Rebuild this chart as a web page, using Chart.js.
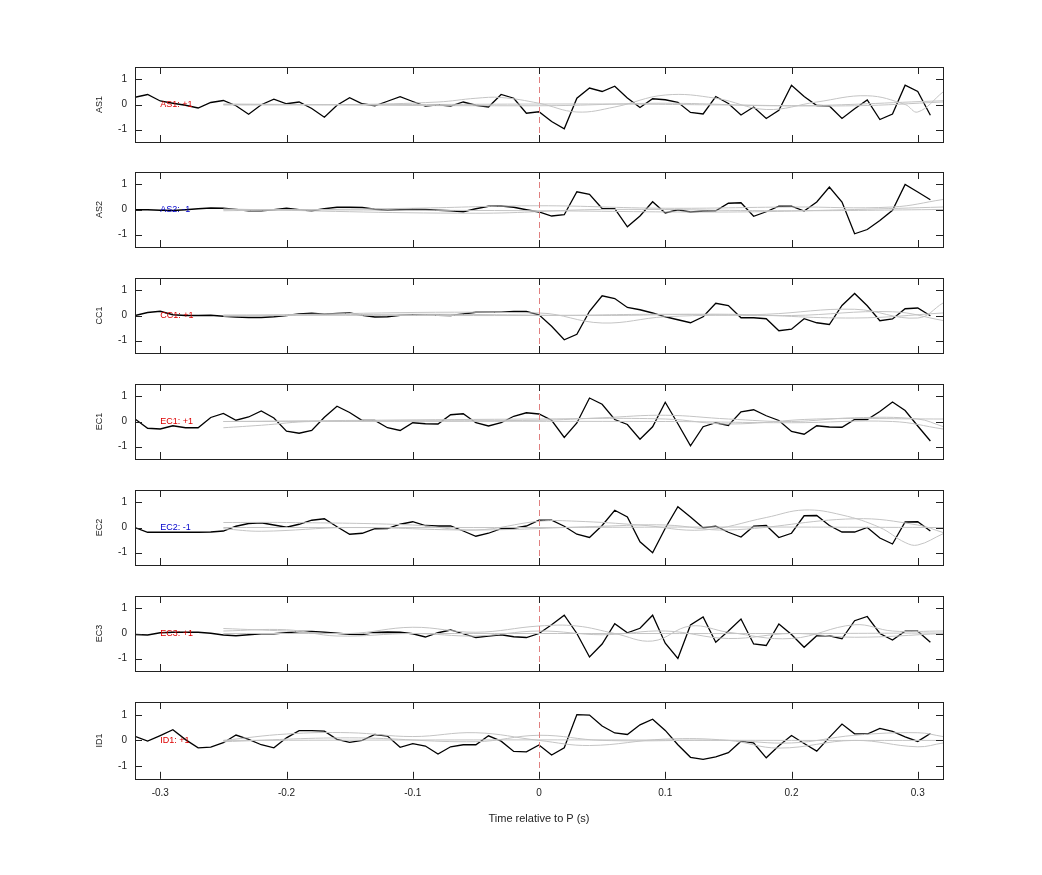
<!DOCTYPE html>
<html><head><meta charset="utf-8">
<script src="https://cdn.jsdelivr.net/npm/chart.js@4/dist/chart.umd.min.js"></script>
<style>body{margin:0;background:#fff;width:1042px;height:875px;position:relative;overflow:hidden}
.p{position:absolute;left:0}</style></head><body>
<script>
const channels = ["AS1","AS2","CC1","EC1","EC2","EC3","ID1"];
const polarity = ["+1","-1","+1","+1","-1","+1","+1"];
const xTicks = [-0.3,-0.2,-0.1,0,0.1,0.2,0.3];
const tStart = -0.32, tStep = 0.01;

const AS1 = [0.29,0.40,0.14,0.05,-0.03,-0.14,0.08,0.16,-0.05,-0.39,-0.01,0.21,0.03,0.10,-0.16,-0.51,-0.03,0.27,0.03,-0.05,0.13,0.31,0.12,-0.06,-0.01,-0.06,0.10,-0.03,-0.10,0.40,0.25,-0.35,-0.29,-0.68,-0.97,0.25,0.66,0.52,0.73,0.26,-0.12,0.23,0.19,0.09,-0.32,-0.38,0.32,0.04,-0.42,-0.10,-0.56,-0.23,0.77,0.32,-0.04,-0.06,-0.56,-0.17,0.18,-0.60,-0.38,0.77,0.52,-0.43];
const AS2 = [-0.01,-0.01,-0.03,-0.04,-0.01,0.03,0.06,0.05,0,-0.05,-0.05,-0.01,0.05,-0.01,-0.05,0.03,0.09,0.09,0.08,0.01,-0.03,-0.01,0.01,0,-0.03,-0.05,-0.09,0.03,0.13,0.14,0.09,-0.01,-0.10,-0.26,-0.21,0.71,0.61,0.04,0.03,-0.69,-0.26,0.31,-0.14,-0.01,-0.10,-0.06,-0.05,0.25,0.27,-0.27,-0.09,0.13,0.13,-0.06,0.30,0.90,0.30,-0.97,-0.80,-0.44,-0.03,1.00,0.70,0.39];
const CC1 = [0,0.12,0.17,0.03,0,0,0.01,-0.03,-0.06,-0.08,-0.08,-0.05,0,0.06,0.09,0.05,0.08,0.10,0.01,-0.06,-0.05,0.01,0.03,0.01,0.01,0,0.06,0.13,0.13,0.13,0.16,0.16,0.03,-0.43,-0.97,-0.75,0.17,0.79,0.68,0.32,0.23,0.10,-0.05,-0.17,-0.29,-0.05,0.49,0.40,-0.09,-0.09,-0.13,-0.61,-0.55,-0.13,-0.29,-0.36,0.40,0.88,0.39,-0.21,-0.14,0.27,0.30,-0.01];
const EC1 = [0.10,-0.27,-0.30,-0.17,-0.25,-0.25,0.16,0.32,0.05,0.18,0.42,0.14,-0.39,-0.47,-0.36,0.17,0.61,0.36,0.04,0.04,-0.25,-0.36,-0.05,-0.09,-0.10,0.27,0.31,-0.05,-0.18,-0.05,0.21,0.35,0.30,0.05,-0.64,-0.06,0.94,0.69,0.08,-0.12,-0.71,-0.21,0.77,-0.09,-0.97,-0.21,-0.05,-0.16,0.39,0.47,0.23,0.04,-0.40,-0.51,-0.17,-0.22,-0.23,0.08,0.08,0.40,0.78,0.44,-0.18,-0.78];
const EC2 = [0,-0.19,-0.19,-0.19,-0.19,-0.19,-0.18,-0.14,0.05,0.16,0.19,0.10,0.01,0.13,0.29,0.35,0.03,-0.27,-0.23,-0.05,-0.04,0.13,0.23,0.08,0.06,0.06,-0.14,-0.35,-0.23,-0.05,-0.03,0.06,0.29,0.29,0.05,-0.27,-0.40,0.08,0.69,0.42,-0.57,-1.01,-0.03,0.83,0.42,-0.01,0.05,-0.19,-0.38,0.05,0.08,-0.40,-0.23,0.47,0.48,0.08,-0.18,-0.18,0,-0.42,-0.66,0.22,0.23,-0.14];
const EC3 = [-0.04,-0.06,0.03,0.05,0.05,0.05,0.01,-0.06,-0.09,-0.05,-0.01,-0.01,0.03,0.08,0.08,0.05,0.01,-0.03,-0.04,0.04,0.06,0.05,-0.01,-0.14,0.03,0.14,-0.01,-0.16,-0.10,-0.05,-0.13,-0.16,0,0.35,0.73,0,-0.94,-0.42,0.39,0.03,0.21,0.73,-0.39,-1.00,0.34,0.66,-0.35,0.10,0.58,-0.42,-0.48,0.38,-0.04,-0.55,-0.09,-0.09,-0.21,0.51,0.68,0,-0.26,0.09,0.09,-0.35];
const ID1 = [0.16,-0.03,0.19,0.42,0.03,-0.29,-0.26,-0.09,0.21,0.04,-0.17,-0.29,0.10,0.38,0.38,0.36,0.04,-0.08,0,0.23,0.17,-0.27,-0.13,-0.22,-0.53,-0.25,-0.17,-0.17,0.18,-0.03,-0.43,-0.45,-0.18,-0.57,-0.29,1.01,0.99,0.56,0.29,0.23,0.61,0.83,0.39,-0.17,-0.66,-0.74,-0.64,-0.48,-0.03,-0.10,-0.68,-0.21,0.19,-0.12,-0.42,0.12,0.64,0.26,0.25,0.47,0.35,0.14,-0.04,0.27];
const blackSeries = [AS1,AS2,CC1,EC1,EC2,EC3,ID1];

const grayAS1 = [
 [[-0.25,0],[-0.15,0],[-0.08,0.1],[-0.05,0.25],[-0.03,0.28],[0,0.05],[0.03,-0.3],[0.06,-0.1],[0.1,0.38],[0.14,0.25],[0.18,-0.2],[0.22,0.1],[0.26,0.35],[0.29,0],[0.3,-0.3],[0.32,0.5]],
 [[-0.25,0.02],[0,-0.05],[0.1,0.05],[0.2,-0.05],[0.32,0.15]],
 [[-0.25,-0.02],[-0.1,0],[0.05,0.02],[0.15,-0.02],[0.25,-0.05],[0.32,0.1]]];
const grayAS2 = [
 [[-0.25,-0.05],[-0.1,0.05],[0,0.15],[0.1,0.05],[0.2,0.1],[0.28,0.1],[0.32,0.4]],
 [[-0.25,0],[0,-0.05],[0.15,-0.1],[0.25,0],[0.32,0.1]],
 [[-0.25,0.02],[-0.05,-0.15],[0.05,0],[0.2,-0.05],[0.32,0]]];
const grayCC1 = [
 [[-0.25,0],[0,0.1],[0.05,-0.3],[0.1,-0.05],[0.18,0.05],[0.25,0.25],[0.3,-0.1],[0.32,0.5]],
 [[-0.25,-0.03],[-0.1,0.05],[0.05,0],[0.15,0.05],[0.25,-0.1],[0.32,0.1]],
 [[-0.25,0.02],[0,0],[0.1,0.05],[0.2,0],[0.28,0.15],[0.32,-0.2]]];
const grayEC1 = [
 [[-0.25,-0.25],[-0.22,-0.15],[-0.18,0],[0,0.05],[0.05,0.15],[0.1,0.25],[0.15,0.1],[0.2,0],[0.25,0.15],[0.3,0.1],[0.32,-0.2]],
 [[-0.25,0],[0,0.1],[0.1,0.1],[0.15,-0.1],[0.22,0.1],[0.32,0.1]],
 [[-0.25,0],[0.1,0],[0.2,-0.05],[0.28,0],[0.32,-0.3]]];
const grayEC2 = [
 [[-0.25,0.2],[-0.2,0.2],[-0.1,0.1],[-0.05,-0.1],[0,0.25],[0.03,0.25],[0.08,0.1],[0.13,-0.1],[0.18,0.4],[0.21,0.7],[0.24,0.5],[0.27,0],[0.29,-0.6],[0.3,-0.7],[0.32,-0.25]],
 [[-0.25,-0.05],[-0.22,-0.15],[-0.15,0],[-0.05,-0.1],[0.05,0.05],[0.1,0.1],[0.15,-0.1],[0.25,0.35],[0.3,0.1],[0.32,-0.2]],
 [[-0.25,0],[0,0],[0.15,0.02],[0.32,0]]];
const grayEC3 = [
 [[-0.25,0.2],[-0.2,0.1],[-0.15,0],[-0.1,0.25],[-0.05,0.05],[0,0.3],[0.03,0.3],[0.06,0],[0.09,-0.3],[0.12,0.3],[0.15,0.05],[0.2,-0.2],[0.25,0.35],[0.28,0.1],[0.32,0.1]],
 [[-0.25,0.1],[-0.2,0.15],[-0.16,-0.1],[-0.1,0],[-0.05,-0.1],[0,0.1],[0.05,-0.05],[0.1,0.1],[0.15,-0.2],[0.2,0],[0.25,-0.15],[0.32,0]],
 [[-0.25,0],[0,0],[0.2,0],[0.32,0.02]]];
const grayID1 = [
 [[-0.25,0],[-0.2,0.25],[-0.15,0.3],[-0.1,0.15],[-0.05,0.3],[0,0],[0.04,-0.2],[0.1,0.05],[0.15,0],[0.19,-0.3],[0.25,0],[0.3,-0.25],[0.32,-0.1]],
 [[-0.25,-0.05],[-0.15,0.1],[-0.05,-0.05],[0,0.2],[0.05,0],[0.15,0],[0.2,-0.1],[0.25,0.2],[0.3,0.3],[0.32,0.15]],
 [[-0.25,0],[0,0.02],[0.2,0],[0.32,0]]];
const graySeries = [grayAS1,grayAS2,grayCC1,grayEC1,grayEC2,grayEC3,grayID1];

const panelTops = [67,172,278,384,490,596,702];
const PH = 75;
const times = AS1.map((_, i) => +(tStart + i*tStep).toFixed(2));

const boxPlugin = {
  id:'box',
  afterDatasetsDraw(chart, args, o){
    const {ctx, chartArea:a, scales:{x,y}} = chart;
    ctx.save();
    ctx.strokeStyle='#e08080'; ctx.lineWidth=1; ctx.setLineDash([6,4]);
    const x0 = Math.round(x.getPixelForValue(0))+0.5;
    ctx.beginPath(); ctx.moveTo(x0,a.top); ctx.lineTo(x0,a.bottom); ctx.stroke();
    ctx.setLineDash([]);
    ctx.fillStyle = o.sign==='-1' ? '#0000cc' : '#dd0000';
    ctx.font='9px "Liberation Sans", Arial'; ctx.textBaseline='middle';
    ctx.fillText(o.name+': '+o.sign, x.getPixelForValue(-0.3), y.getPixelForValue(-0.02));
    ctx.strokeStyle='#222'; ctx.lineWidth=1;
    ctx.strokeRect(Math.round(a.left)+0.5, Math.round(a.top)+0.5, Math.round(a.width), Math.round(a.height));
    ctx.beginPath();
    xTicks.forEach(t=>{const px=Math.round(x.getPixelForValue(t))+0.5;
      ctx.moveTo(px,a.top); ctx.lineTo(px,a.top+7); ctx.moveTo(px,a.bottom); ctx.lineTo(px,a.bottom-7);});
    [-1,0,1].forEach(v=>{const py=Math.round(y.getPixelForValue(v))+0.5;
      ctx.moveTo(a.left,py); ctx.lineTo(a.left+7,py); ctx.moveTo(a.right,py); ctx.lineTo(a.right-7,py);});
    ctx.stroke();
    ctx.restore();
  }
};

channels.forEach((name, k) => {
  const last = k === channels.length-1;
  const H = last ? PH + 55 : PH + 4;
  const c = document.createElement('canvas');
  c.className='p'; c.style.top=(panelTops[k]-2)+'px';
  c.width = 1042; c.height = H;
  c.style.width='1042px'; c.style.height=H+'px';
  document.body.appendChild(c);
  const ds = graySeries[k].map(g => ({data:g.map(p=>({x:p[0],y:p[1]})), borderColor:'#c4c4c4', borderWidth:1, pointRadius:0, tension:0.4}));
  ds.push({data: blackSeries[k].map((v,i)=>({x:times[i], y:v})), borderColor:'#000', borderWidth:1.3, pointRadius:0, tension:0});
  new Chart(c, {
    type:'line',
    data:{datasets:ds},
    options:{
      responsive:false, animation:false, devicePixelRatio:1,
      layout:{padding:{left:94, right:99, top:2, bottom:last?0:2}},
      plugins:{legend:{display:false}, tooltip:{enabled:false}, box:{name, sign:polarity[k]}},
      scales:{
        x:{type:'linear', min:-0.32, max:0.32, display:last,
           grid:{display:false, drawTicks:false}, border:{display:false},
           afterBuildTicks:s=>{s.ticks = xTicks.map(v=>({value:v}));},
           afterFit:s=>{s.paddingLeft=0; s.paddingRight=0;},
           ticks:{color:'#222', font:{size:10, family:'"Liberation Sans", Arial'}, padding:8, maxRotation:0,
             callback:v=>String(Math.round(v*10)/10)},
           title:{display:true, text:'Time relative to P (s)', color:'#222', font:{size:11, family:'"Liberation Sans", Arial'}, padding:{top:6}}},
        y:{min:-1.5, max:1.5,
           grid:{display:false, drawTicks:false}, border:{display:false},
           afterBuildTicks:s=>{s.ticks=[-1,0,1].map(v=>({value:v}));},
           afterFit:s=>{s.width=41; s.paddingTop=0; s.paddingBottom=0;},
           ticks:{color:'#222', font:{size:10, family:'"Liberation Sans", Arial'}, padding:8},
           title:{display:true, text:name, color:'#222', font:{size:9, family:'"Liberation Sans", Arial'}, padding:0}}
      }
    },
    plugins:[boxPlugin]
  });
});
</script></body></html>
